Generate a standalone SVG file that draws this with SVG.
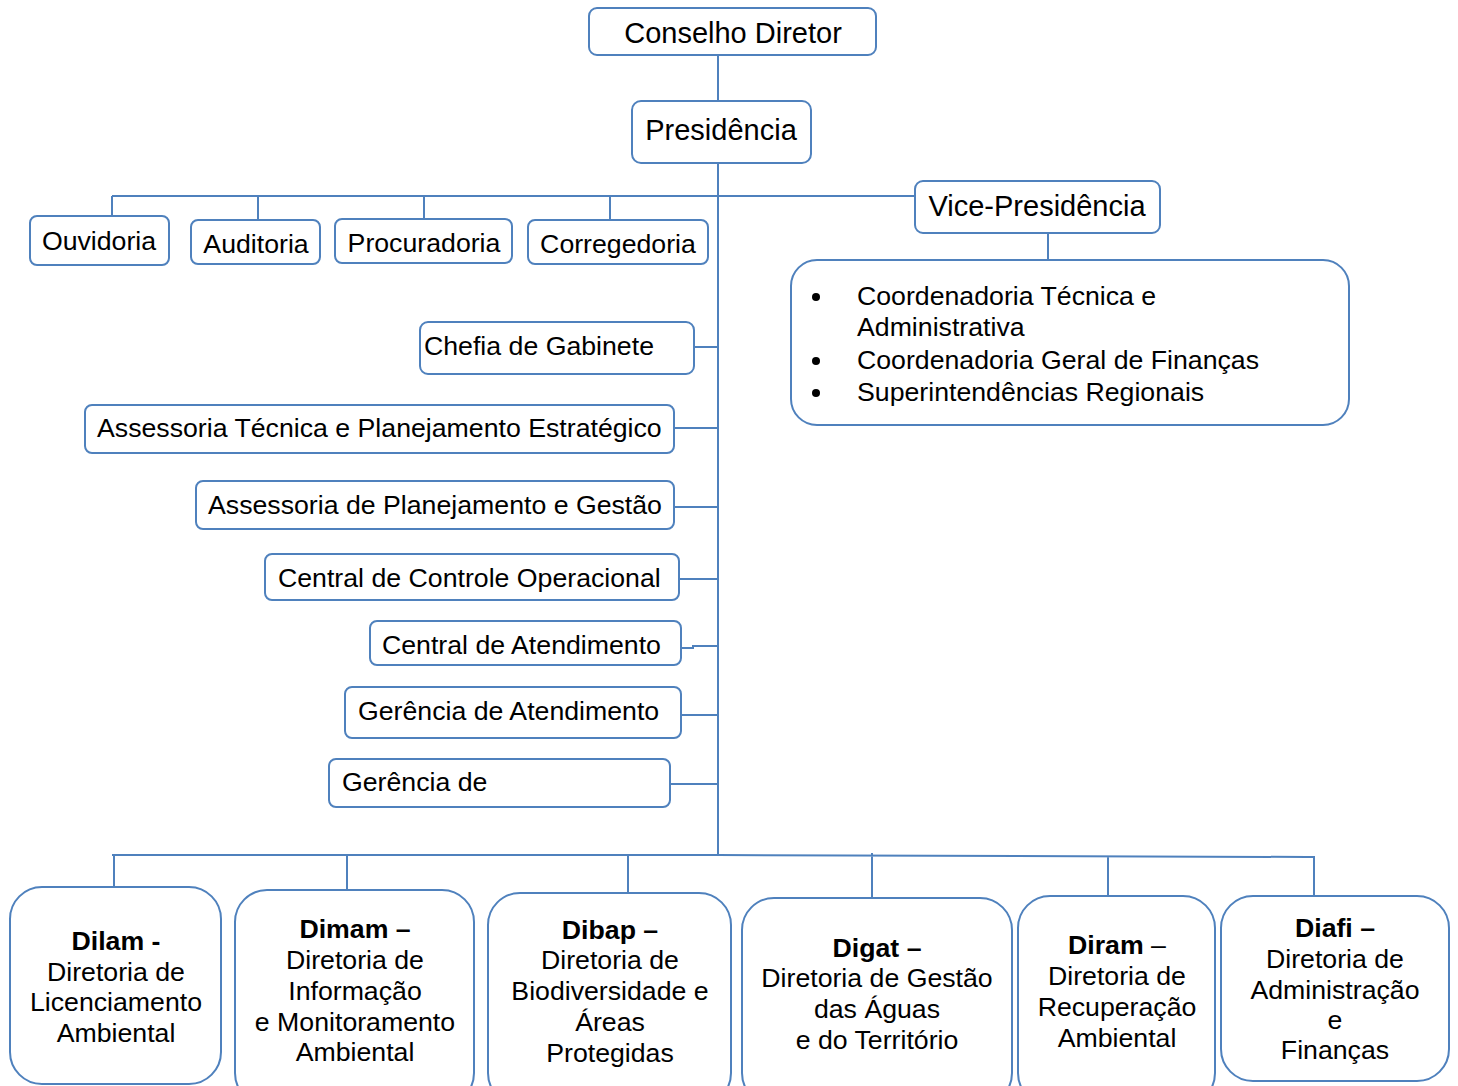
<svg xmlns="http://www.w3.org/2000/svg" width="1458" height="1086" viewBox="0 0 1458 1086">
<style>
.b{fill:#fff;stroke:#4f81bd;stroke-width:2}
.c{fill:none;stroke:#4f81bd;stroke-width:2}
text{font-family:"Liberation Sans",Arial,sans-serif;font-size:26.7px;fill:#000}
.big{font-size:29px}
.m{text-anchor:middle}
.bd{font-weight:bold}
</style>
<rect width="1458" height="1086" fill="#fff"/>
<g id="connectors">
<path class="c" d="M718 55V101M718 163V855M112 196H915M112 196V216M258 196V220M424 196V220M610 196V220M1048 233V260"/>
<path class="c" d="M694 347H718M674 428H718M674 507H718M679 579H718M681 648H693V646H718M681 715H718M670 784H718"/>
<path class="c" d="M112 855H718L1307 857M114 855V887M347 855V890M628 855V893M872 853V898M1108 857V896M1293 857H1314V895"/>
</g>
<g id="conselho"><rect class="b" x="589" y="8" width="287" height="47" rx="8"/><text class="big m" x="733" y="42.5">Conselho Diretor</text></g>
<g id="presidencia"><rect class="b" x="632" y="101" width="179" height="62" rx="9"/><text class="big m" x="721" y="140">Presidência</text></g>
<g id="vice"><rect class="b" x="915" y="181" width="245" height="52" rx="8"/><text class="big m" x="1037" y="215.5">Vice-Presidência</text></g>
<g id="vice-list"><rect class="b" x="791" y="260" width="558" height="165" rx="26"/>
<circle cx="816" cy="297" r="4"/><circle cx="816" cy="361" r="4"/><circle cx="816" cy="393" r="4"/>
<text x="857" y="304.5">Coordenadoria Técnica e</text><text x="857" y="335.5">Administrativa</text><text x="857" y="368.5">Coordenadoria Geral de Finanças</text><text x="857" y="400.5">Superintendências Regionais</text></g>
<g id="ouvidoria"><rect class="b" x="30" y="216" width="139" height="49" rx="7"/><text class="m" x="99" y="249.5">Ouvidoria</text></g>
<g id="auditoria"><rect class="b" x="191" y="220" width="129" height="44" rx="7"/><text class="m" x="256" y="252.5">Auditoria</text></g>
<g id="procuradoria"><rect class="b" x="335" y="219" width="177" height="44" rx="7"/><text class="m" x="424" y="251.5">Procuradoria</text></g>
<g id="corregedoria"><rect class="b" x="528" y="220" width="180" height="44" rx="7"/><text class="m" x="618" y="252.5">Corregedoria</text></g>
<g id="chefia"><rect class="b" x="420" y="322" width="274" height="52" rx="8"/><text x="424" y="354.5">Chefia de Gabinete</text></g>
<g id="assessoria-tec"><rect class="b" x="85" y="405" width="589" height="48" rx="7"/><text x="97" y="436.5">Assessoria Técnica e Planejamento Estratégico</text></g>
<g id="assessoria-plan"><rect class="b" x="196" y="481" width="478" height="48" rx="7"/><text x="208" y="513.5">Assessoria de Planejamento e Gestão</text></g>
<g id="central-controle"><rect class="b" x="265" y="554" width="414" height="46" rx="7"/><text x="278" y="586.5">Central de Controle Operacional</text></g>
<g id="central-atend"><rect class="b" x="370" y="621" width="311" height="44" rx="7"/><text x="382" y="653.5">Central de Atendimento</text></g>
<g id="gerencia-atend"><rect class="b" x="345" y="687" width="336" height="51" rx="7"/><text x="358" y="719.5">Gerência de Atendimento</text></g>
<g id="gerencia"><rect class="b" x="329" y="759" width="341" height="48" rx="7"/><text x="342" y="790.5">Gerência de</text></g>
<g id="dilam"><rect class="b" x="10" y="887" width="211" height="197" rx="32"/>
<text class="m" x="116"><tspan class="bd" x="116" y="949.5">Dilam -</tspan><tspan x="116" y="980.5">Diretoria de</tspan><tspan x="116" y="1010.5">Licenciamento</tspan><tspan x="116" y="1041.5">Ambiental</tspan></text></g>
<g id="dimam"><rect class="b" x="235" y="890" width="239" height="215" rx="32"/>
<text class="m" x="355"><tspan class="bd" x="355" y="937.5">Dimam –</tspan><tspan x="355" y="968.5">Diretoria de</tspan><tspan x="355" y="999.5">Informação</tspan><tspan x="355" y="1030.5">e Monitoramento</tspan><tspan x="355" y="1060.5">Ambiental</tspan></text></g>
<g id="dibap"><rect class="b" x="488" y="893" width="243" height="212" rx="32"/>
<text class="m" x="610"><tspan class="bd" x="610" y="938.5">Dibap –</tspan><tspan x="610" y="968.5">Diretoria de</tspan><tspan x="610" y="999.5">Biodiversidade e</tspan><tspan x="610" y="1030.5">Áreas</tspan><tspan x="610" y="1061.5">Protegidas</tspan></text></g>
<g id="digat"><rect class="b" x="742" y="898" width="270" height="207" rx="32"/>
<text class="m" x="877"><tspan class="bd" x="877" y="956.5">Digat –</tspan><tspan x="877" y="986.5">Diretoria de Gestão</tspan><tspan x="877" y="1017.5">das Águas</tspan><tspan x="877" y="1048.5">e do Território</tspan></text></g>
<g id="diram"><rect class="b" x="1018" y="896" width="197" height="209" rx="32"/>
<text class="m" x="1117"><tspan x="1117" y="953.5"><tspan class="bd">Diram</tspan> –</tspan><tspan x="1117" y="984.5">Diretoria de</tspan><tspan x="1117" y="1015.5">Recuperação</tspan><tspan x="1117" y="1046.5">Ambiental</tspan></text></g>
<g id="diafi"><rect class="b" x="1221" y="896" width="228" height="185" rx="32"/>
<text class="m" x="1335"><tspan class="bd" x="1335" y="936.5">Diafi –</tspan><tspan x="1335" y="967.5">Diretoria de</tspan><tspan x="1335" y="998.5">Administração</tspan><tspan x="1335" y="1028.5">e</tspan><tspan x="1335" y="1058.5">Finanças</tspan></text></g>
</svg>
